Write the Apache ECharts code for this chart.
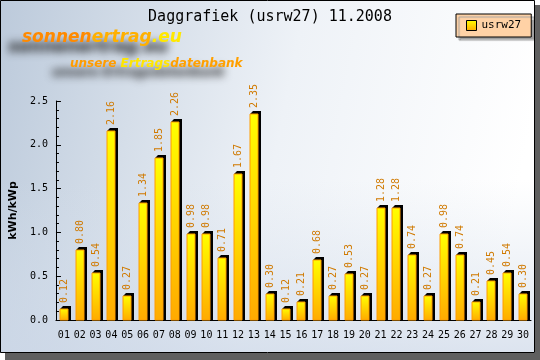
<!DOCTYPE html>
<html><head><meta charset="utf-8">
<script src="https://cdn.jsdelivr.net/npm/echarts@6/dist/echarts.min.js"></script>
<style>html,body{margin:0;padding:0;background:#fff}#c{width:540px;height:360px}</style>
</head><body><div id="c"></div>
<script>
const days = ['01','02','03','04','05','06','07','08','09','10','11','12','13','14','15','16','17','18','19','20','21','22','23','24','25','26','27','28','29','30'];
const values = [0.12,0.80,0.54,2.16,0.27,1.34,1.85,2.26,0.98,0.98,0.71,1.67,2.35,0.30,0.12,0.21,0.68,0.27,0.53,0.27,1.28,1.28,0.74,0.27,0.98,0.74,0.21,0.45,0.54,0.30];
const yTicks = [0, 0.5, 1.0, 1.5, 2.0, 2.5];
const seriesName = 'usrw27';
const titleText = 'Daggrafiek (usrw27) 11.2008';
const yName = 'kWh/kWp';

const mono = '"DejaVu Sans Mono", monospace';
const chart = echarts.init(document.getElementById('c'));
const barGrad = new echarts.graphic.LinearGradient(0,0,0,1,[{offset:0,color:'#ffff00'},{offset:1,color:'#ffaa00'}]);
const logoFont = 'italic bold 17px "DejaVu Sans", sans-serif';
const subFont = 'italic bold 12px "DejaVu Sans", sans-serif';

// blurred drop shadow of the logo (decoration)
const sh = document.createElement('canvas');
sh.width = 260; sh.height = 95;
const ctx = sh.getContext('2d');
ctx.filter = 'blur(4px)';
ctx.fillStyle = 'rgba(25,25,25,1)';
ctx.textBaseline = 'middle';
ctx.font = logoFont;
ctx.fillText('sonnenertrag.eu', 8, 48);
ctx.font = subFont;
ctx.fillText('unsere Ertragsdatenbank', 52, 73);

chart.setOption({
  animation: false,
  graphic: [
    {type:'rect', z:-10, silent:true, shape:{x:0,y:0,width:535,height:353},
      style:{fill:new echarts.graphic.LinearGradient(0,0,1,0.3,[{offset:0,color:'#bccadb'},{offset:0.55,color:'#eef2f7'},{offset:1,color:'#ffffff'}])}},
    {type:'rect', z:-9, silent:true, shape:{x:0,y:180,width:535,height:173},
      style:{fill:new echarts.graphic.LinearGradient(0,0,0,1,[{offset:0,color:'rgba(214,224,236,0)'},{offset:1,color:'rgba(205,216,232,0.7)'}])}},
    {type:'rect', z:-8, silent:true, shape:{x:535,y:5,width:5,height:355}, style:{fill:'#5f5f5f'}},
    {type:'rect', z:-8, silent:true, shape:{x:5,y:353,width:535,height:7}, style:{fill:'#5f5f5f'}},
    {type:'rect', z:50, silent:true, shape:{x:0.5,y:0.5,width:534,height:352}, style:{fill:null,stroke:'#000',lineWidth:1}},
    {type:'image', z:-6, silent:true, x:0, y:0, style:{image:sh, width:260, height:95}},
    {type:'text', z:-5, silent:true, x:22, y:38,
      style:{text:'{a|sonnen}{b|ertrag}{c|.eu}', font:logoFont, verticalAlign:'middle',
        rich:{a:{font:logoFont, fill:'#ff8a00', color:'#ff8a00'}, b:{font:logoFont, fill:'#ffb000', color:'#ffb000'}, c:{font:logoFont, fill:'#ffe800', color:'#ffe800'}}}},
    {type:'text', z:-5, silent:true, x:70, y:64,
      style:{text:'{a|unsere }{b|Ertrags}{c|datenbank}', font:subFont, verticalAlign:'middle',
        rich:{a:{font:subFont, fill:'#ff9c00', color:'#ff9c00'}, b:{font:subFont, fill:'#ffe600', color:'#ffe600'}, c:{font:subFont, fill:'#ffa000', color:'#ffa000'}}}}
  ],
  title: {text:titleText, left:'center', top:5, textStyle:{fontFamily:mono, fontSize:15, fontWeight:'normal', color:'#000'}},
  legend: {data:[seriesName], left:456, top:14, padding:[6,10,6,10], itemGap:0,
    backgroundColor:'#ffd2a6', borderColor:'#000', borderWidth:1,
    shadowColor:'#a0a0a0', shadowOffsetX:3, shadowOffsetY:3, shadowBlur:1,
    icon:'rect', itemWidth:10, itemHeight:10,
    itemStyle:{color:barGrad, borderColor:'#000', borderWidth:1},
    textStyle:{fontFamily:mono, fontSize:11, color:'#000'}},
  grid: {left:41, right:9, top:101, bottom:40},
  xAxis: {type:'category', data:days, boundaryGap:true,
    axisLine:{lineStyle:{color:'#000'}},
    axisTick:{inside:true, length:4, lineStyle:{color:'#000'}},
    axisLabel:{fontFamily:mono, fontSize:10, color:'#000', margin:10, interval:0}},
  yAxis: {type:'value', min:0, max:2.5, interval:0.5, name:yName, nameLocation:'middle', nameGap:30,
    nameTextStyle:{fontFamily:'"DejaVu Sans", sans-serif', fontWeight:'bold', fontSize:11, color:'#000'},
    axisLine:{show:true, lineStyle:{color:'#000'}},
    axisTick:{show:true, inside:true, length:5, lineStyle:{color:'#000'}},
    minorTick:{show:true, splitNumber:5, length:3, lineStyle:{color:'#000'}},
    splitLine:{show:false},
    axisLabel:{fontFamily:mono, fontSize:10, color:'#000', margin:8, formatter:v=>v.toFixed(1)}},
  series: [{
    type:'custom', name:seriesName, itemStyle:{color:barGrad},
    data: values.map((v,i)=>[i,v]),
    renderItem: function(params, api){
      const p = api.coord([api.value(0), api.value(1)]);
      const b = api.coord([api.value(0), 0]);
      const x0 = Math.round(p[0]) - 4, x1 = x0 + 8;
      const y0 = Math.round(p[1]), yb = Math.round(b[1]);
      return {type:'group', children:[
        {type:'polygon', shape:{points:[[x0,y0],[x0+3,y0-3],[x1+3,y0-3],[x1+3,yb],[x1,yb],[x1,y0]]}, style:{fill:'#000'}},
        {type:'rect', shape:{x:x0, y:y0, width:8, height:yb-y0}, style:{fill:barGrad, stroke:'#ff9c00', lineWidth:1}},
        {type:'text', x:x0+4, y:y0-6, rotation:Math.PI/2,
          style:{text:api.value(1).toFixed(2), font:'10px ' + mono, fill:'#d07a00', align:'left', verticalAlign:'middle'}}
      ]};
    }
  }]
});
</script></body></html>
